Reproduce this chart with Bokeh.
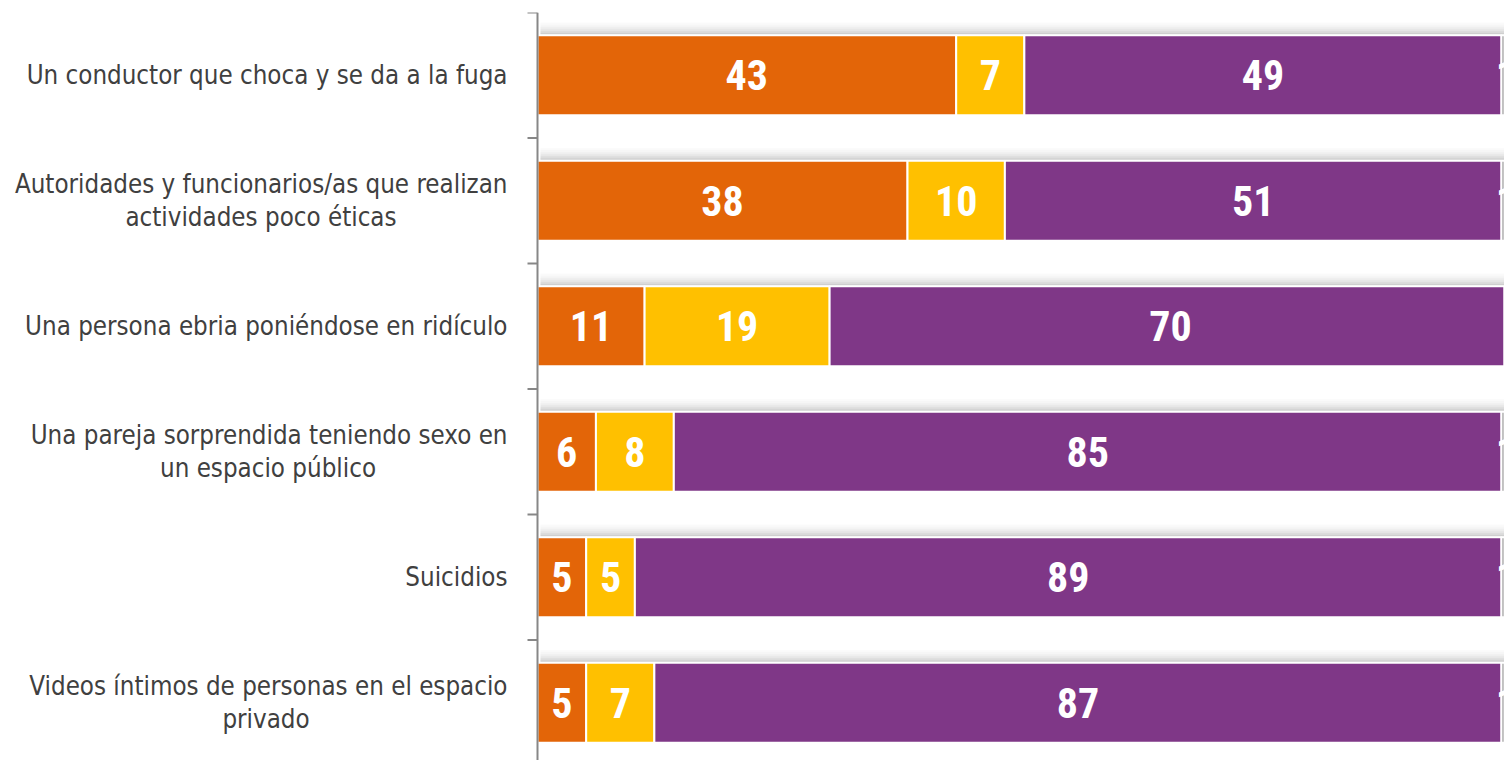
from bokeh.plotting import figure
from bokeh.models import Range1d, ColumnDataSource
from bokeh.core.properties import value
from bokeh.embed import file_html
from bokeh.resources import INLINE

# ---------------- data ----------------
categories = [
    "Un conductor que choca y se da a la fuga",
    "Autoridades y funcionarios/as que realizan\nactividades poco éticas",
    "Una persona ebria poniéndose en ridículo",
    "Una pareja sorprendida teniendo sexo en\nun espacio público",
    "Suicidios",
    "Videos íntimos de personas en el espacio\nprivado",
]
serie_1 = [43, 38, 11, 6, 5, 5]
serie_2 = [7, 10, 19, 8, 5, 7]
serie_3 = [49, 51, 70, 85, 89, 87]
serie_4 = [1, 1, 0, 1, 1, 1]

# ---------------- style ----------------
colors = ["#E36508", "#FFC000", "#7F3787", "#8C8C8C"]
label_font = "'DejaVu Sans Condensed', 'Liberation Sans'"
value_font = "'Roboto Condensed', 'DejaVu Sans Condensed', 'Liberation Sans'"

FIG_W, FIG_H = 1504, 760
TOP_BORDER = 12
PX_PER_X = 9.737          # pixels per percentage point
ZERO_PX = 537             # pixel position of 0 inside the frame
ROW_PX = 125.5            # pixels per category row
BAR_H = 0.6375

xmin = -ZERO_PX / PX_PER_X
xmax = xmin + FIG_W / PX_PER_X
frame_h = FIG_H - TOP_BORDER
ystart = -0.5 + frame_h / ROW_PX

p = figure(width=FIG_W, height=FIG_H, output_backend="svg", toolbar_location=None,
           x_range=Range1d(xmin, xmax), y_range=Range1d(ystart, -0.5),
           min_border_left=0, min_border_right=0, min_border_top=TOP_BORDER,
           min_border_bottom=0)
p.xaxis.visible = False
p.yaxis.visible = False
p.xgrid.visible = False
p.ygrid.visible = False
p.outline_line_color = None
p.background_fill_color = "white"
p.border_fill_color = "white"

n = len(categories)
rows = list(range(n))
series = [serie_1, serie_2, serie_3, serie_4]

# shadow above each bar
totals = [sum(s[i] for s in series) for i in rows]
band = 2.0 / ROW_PX
alphas = [0.03, 0.06, 0.10, 0.15, 0.22, 0.30]
for k, a in enumerate(alphas):
    off = (len(alphas) - k) * band + 0.5 / ROW_PX
    p.hbar(y=[r - BAR_H / 2 - off + band / 2 for r in rows], left=[0.3] * n,
           right=totals, height=band, fill_color="#606060", fill_alpha=a,
           line_color=None)

# stacked bars
lefts = [0] * n
for s, c in zip(series, colors):
    rights = [l + v for l, v in zip(lefts, s)]
    src = ColumnDataSource(dict(y=rows, left=lefts, right=rights,
                                mid=[(l + r) / 2 for l, r in zip(lefts, rights)],
                                txt=[str(v) if v > 0 else "" for v in s]))
    p.hbar(y="y", left="left", right="right", height=BAR_H, source=src,
           fill_color=c, line_color="white", line_width=2)
    p.text(x="mid", y="y", text="txt", source=src, text_color="white",
           text_font=value(value_font), text_font_style="bold",
           text_font_size="42px", text_align="center", text_baseline="middle")
    lefts = rights

# axis line and ticks
bounds = [b - 0.5 for b in range(n + 1)]
p.segment(x0=[0], y0=[-0.5], x1=[0], y1=[ystart], line_color="#878787", line_width=2)
tick_len = 10 / PX_PER_X
p.segment(x0=[-tick_len] * len(bounds), y0=bounds, x1=[0] * len(bounds), y1=bounds,
          line_color="#878787", line_width=2)

# category labels: first line right-aligned, following lines centred under it
right_px = 507 - 537
first_w = [480, 493, 482, 479, 102, 483]   # approximate pixel width of first lines
right_lines = dict(x=[], y=[], t=[], xo=[], yo=[])
centre_lines = dict(x=[], y=[], t=[], xo=[], yo=[])
for i, cat in enumerate(categories):
    lines = cat.split("\n")
    m = len(lines)
    for j, line in enumerate(lines):
        d = right_lines if j == 0 else centre_lines
        d["x"].append(0)
        d["y"].append(i)
        d["t"].append(line)
        d["yo"].append((j - (m - 1) / 2) * 33)
        d["xo"].append(right_px if j == 0 else right_px - first_w[i] / 2)

p.text(x="x", y="y", text="t", x_offset="xo", y_offset="yo",
       source=ColumnDataSource(right_lines),
       text_color="#404040", text_font=value(label_font), text_font_size="25.7px",
       text_align="right", text_baseline="middle")
p.text(x="x", y="y", text="t", x_offset="xo", y_offset="yo",
       source=ColumnDataSource(centre_lines),
       text_color="#404040", text_font=value(label_font), text_font_size="25.7px",
       text_align="center", text_baseline="middle")

open("out.html", "w").write(file_html(p, INLINE))
